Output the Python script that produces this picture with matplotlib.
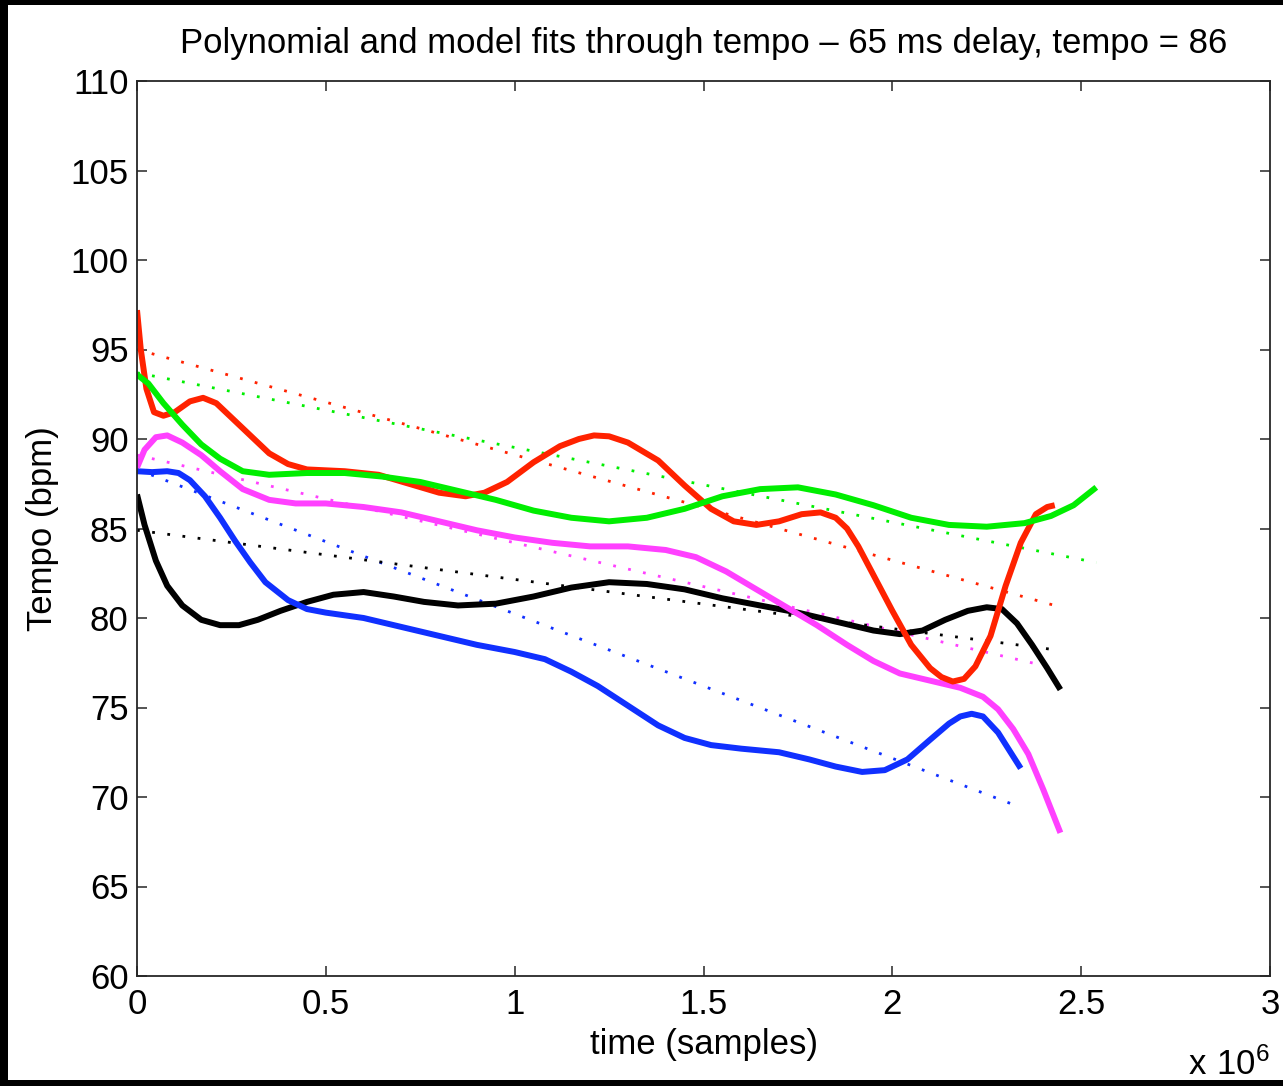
import matplotlib
matplotlib.use('Agg')
import matplotlib.pyplot as plt
from matplotlib.patches import Rectangle

plt.rcParams['font.family'] = ['Liberation Sans', 'DejaVu Sans']

# polynomial fits (time in units of 1e6 samples, tempo in bpm)
red_x = [0.0, 0.01, 0.025, 0.045, 0.07, 0.1, 0.14, 0.175, 0.21, 0.25, 0.3, 0.35, 0.4, 0.45,
         0.5, 0.55, 0.64, 0.72, 0.8, 0.87, 0.92, 0.98, 1.05, 1.12, 1.17, 1.21, 1.25, 1.3,
         1.38, 1.45, 1.52, 1.58, 1.64, 1.7, 1.76, 1.81, 1.85, 1.88, 1.91, 1.95, 2.0, 2.05,
         2.1, 2.13, 2.16, 2.19, 2.22, 2.26, 2.3, 2.34, 2.38, 2.41, 2.43]
red_y = [97.2, 95.0, 92.8, 91.5, 91.3, 91.5, 92.1, 92.3, 92.0, 91.2, 90.2, 89.2, 88.6, 88.3,
         88.25, 88.2, 88.0, 87.5, 87.0, 86.8, 87.0, 87.6, 88.7, 89.6, 90.0, 90.2, 90.15,
         89.8, 88.8, 87.4, 86.1, 85.4, 85.2, 85.4, 85.8, 85.9, 85.6, 85.0, 84.0, 82.4,
         80.4, 78.5, 77.2, 76.7, 76.45, 76.6, 77.3, 79.0, 81.8, 84.2, 85.8, 86.2, 86.3]

green_x = [0.0, 0.03, 0.07, 0.12, 0.17, 0.22, 0.28, 0.35, 0.45, 0.55, 0.65, 0.75, 0.85, 0.95,
           1.05, 1.15, 1.25, 1.35, 1.45, 1.55, 1.65, 1.75, 1.85, 1.95, 2.05, 2.15, 2.25, 2.35,
           2.42, 2.48, 2.54]
green_y = [93.6, 93.1, 92.0, 90.8, 89.7, 88.9, 88.2, 88.0, 88.1, 88.1, 87.9, 87.6, 87.1, 86.6,
           86.0, 85.6, 85.4, 85.6, 86.1, 86.8, 87.2, 87.3, 86.9, 86.3, 85.6, 85.2, 85.1, 85.3,
           85.7, 86.3, 87.3]

magenta_x = [0.0, 0.02, 0.05, 0.08, 0.12, 0.17, 0.22, 0.28, 0.35, 0.42, 0.5, 0.6, 0.7, 0.8,
             0.9, 1.0, 1.1, 1.2, 1.3, 1.4, 1.48, 1.56, 1.64, 1.72, 1.8, 1.88, 1.95, 2.02, 2.1,
             2.18, 2.24, 2.28, 2.32, 2.36, 2.4, 2.445]
magenta_y = [88.4, 89.4, 90.1, 90.2, 89.8, 89.1, 88.2, 87.2, 86.6, 86.4, 86.4, 86.2, 85.9, 85.4,
             84.9, 84.5, 84.2, 84.0, 84.0, 83.8, 83.4, 82.6, 81.6, 80.6, 79.6, 78.5, 77.6, 76.9,
             76.5, 76.1, 75.6, 74.9, 73.8, 72.4, 70.4, 68.0]

blue_x = [0.0, 0.04, 0.08, 0.11, 0.14, 0.18, 0.22, 0.26, 0.3, 0.34, 0.4, 0.45, 0.5, 0.6, 0.7,
          0.8, 0.9, 1.0, 1.08, 1.15, 1.22, 1.3, 1.38, 1.45, 1.52, 1.6, 1.7, 1.78, 1.85, 1.92,
          1.98, 2.04, 2.1, 2.15, 2.18, 2.21, 2.24, 2.28, 2.31, 2.34]
blue_y = [88.2, 88.15, 88.2, 88.1, 87.7, 86.8, 85.6, 84.3, 83.1, 82.0, 81.0, 80.5, 80.3, 80.0,
          79.5, 79.0, 78.5, 78.1, 77.7, 77.0, 76.2, 75.1, 74.0, 73.3, 72.9, 72.7, 72.5, 72.1,
          71.7, 71.4, 71.5, 72.1, 73.2, 74.1, 74.5, 74.65, 74.5, 73.6, 72.6, 71.6]

black_x = [0.0, 0.02, 0.05, 0.08, 0.12, 0.17, 0.22, 0.27, 0.32, 0.38, 0.45, 0.52, 0.6, 0.68,
           0.76, 0.85, 0.95, 1.05, 1.15, 1.25, 1.35, 1.45, 1.55, 1.65, 1.75, 1.85, 1.95, 2.02,
           2.08, 2.14, 2.2, 2.25, 2.29, 2.33, 2.37, 2.41, 2.445]
black_y = [86.9, 85.2, 83.2, 81.8, 80.7, 79.9, 79.6, 79.6, 79.9, 80.4, 80.9, 81.3, 81.45, 81.2,
           80.9, 80.7, 80.8, 81.2, 81.7, 82.0, 81.9, 81.6, 81.1, 80.7, 80.3, 79.8, 79.3, 79.1,
           79.3, 79.9, 80.4, 80.6, 80.5, 79.7, 78.5, 77.2, 76.0]

# linear model fits (start and end points)
red_fit_x, red_fit_y = [0.0, 2.43], [95.0, 80.7]
green_fit_x, green_fit_y = [0.0, 2.54], [93.7, 83.1]
magenta_fit_x, magenta_fit_y = [0.0, 2.43], [89.1, 77.2]
blue_fit_x, blue_fit_y = [0.0, 2.33], [88.3, 69.5]
black_fit_x, black_fit_y = [0.0, 2.44], [84.9, 78.2]

xticks = [0, 0.5, 1, 1.5, 2, 2.5, 3]
xtick_labels = ['0', '0.5', '1', '1.5', '2', '2.5', '3']
yticks = [60, 65, 70, 75, 80, 85, 90, 95, 100, 105, 110]

colors = {'red': '#ff2200', 'green': '#00ee00', 'magenta': '#ff40ff',
          'blue': '#1030ff', 'black': '#000000'}

fig = plt.figure(figsize=(12.83, 10.86), dpi=100, facecolor='black')
fig.patches.append(Rectangle((8 / 1283, 6 / 1086), 1 - 8 / 1283, 1 - 11 / 1086,
                             transform=fig.transFigure, facecolor='white',
                             edgecolor='none', zorder=-10))
ax = fig.add_axes([137 / 1283, 1 - 976 / 1086, (1270 - 137) / 1283, (976 - 81) / 1086])

S = 1e6
dot = (0, (1, 4.5))
for name, fx, fy in [('red', red_fit_x, red_fit_y), ('green', green_fit_x, green_fit_y),
                     ('magenta', magenta_fit_x, magenta_fit_y), ('blue', blue_fit_x, blue_fit_y),
                     ('black', black_fit_x, black_fit_y)]:
    ax.plot([v * S for v in fx], fy, color=colors[name], lw=2.0, linestyle=dot,
            dash_capstyle='butt')

for name, px, py in [('black', black_x, black_y), ('blue', blue_x, blue_y),
                     ('magenta', magenta_x, magenta_y), ('red', red_x, red_y),
                     ('green', green_x, green_y)]:
    ax.plot([v * S for v in px], py, color=colors[name], lw=4.3, solid_capstyle='butt',
            solid_joinstyle='round')

ax.set_xlim(0, 3 * S)
ax.set_ylim(60, 110)
ax.set_xticks([v * S for v in xticks])
ax.set_xticklabels(xtick_labels)
ax.set_yticks(yticks)
ax.tick_params(direction='in', length=7, width=1.1, labelsize=25, top=True, right=True,
               color='#262626')
ax.tick_params(axis='x', pad=9)
ax.tick_params(axis='y', pad=6)
for sp in ax.spines.values():
    sp.set_linewidth(1.3)
    sp.set_color('#262626')

ax.set_title('Polynomial and model fits through tempo \u2013 65 ms delay, tempo = 86',
             fontsize=25, pad=20)
ax.set_xlabel('time (samples)', fontsize=25, labelpad=5)
ax.set_ylabel('Tempo (bpm)', fontsize=25, labelpad=8)
ax.text(1.0, -0.08, r'$\mathregular{x\ 10^6}$', transform=ax.transAxes, ha='right',
        va='top', fontsize=25)

fig.savefig('out.png', dpi=100, facecolor=fig.get_facecolor())
